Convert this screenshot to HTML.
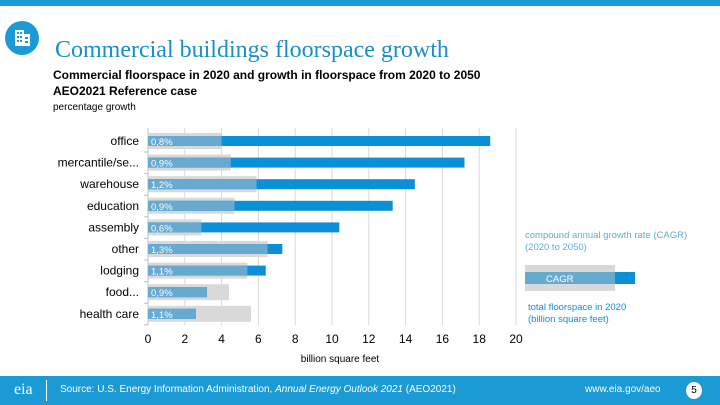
<!DOCTYPE html>
<html><head><meta charset="utf-8"><style>
body{margin:0;width:720px;height:405px;overflow:hidden;background:#fff;font-family:"Liberation Sans",sans-serif;position:relative}
.abs{position:absolute}
</style></head><body>
<div class="abs" style="left:0;top:0;width:720px;height:6px;background:#1b9ad6"></div>
<svg class="abs" style="left:4px;top:20px" width="36" height="36"><circle cx="18" cy="18" r="17" fill="#1b9ad6"/><rect x="11" y="10" width="9" height="16" fill="#fff"/><rect x="19" y="14" width="7" height="12" fill="#fff"/><g fill="#1b9ad6"><rect x="13" y="12" width="2" height="2"/><rect x="16" y="12" width="2" height="2"/><rect x="13" y="16" width="2" height="2"/><rect x="16" y="16" width="2" height="2"/><rect x="13" y="20" width="2" height="2"/><rect x="16" y="20" width="2" height="2"/><rect x="21" y="17" width="3" height="2"/><rect x="21" y="21" width="3" height="2"/></g></svg>
<div class="abs" style="left:55px;top:37px;font-family:'Liberation Serif',serif;font-size:24px;color:#1a8fc7">Commercial buildings floorspace growth</div>
<div class="abs" style="left:53px;top:67px;font-size:12px;font-weight:bold;line-height:16px;letter-spacing:0">Commercial floorspace in 2020 and growth in floorspace from 2020 to 2050<br>AEO2021 Reference case</div>
<div class="abs" style="left:53px;top:102px;font-size:10px">percentage growth</div>
<svg class="abs" id="chart" style="left:0;top:0" width="720" height="376"></svg>
<div class="abs" style="left:0;top:376px;width:720px;height:29px;background:#1b9ad6;color:#fff;font-size:10px">
<div class="abs" style="left:14px;top:5px;font-size:16px;font-family:'Liberation Serif',serif">eia</div>
<div class="abs" style="left:46px;top:4px;width:1px;height:21px;background:#fff"></div>
<div class="abs" style="left:60px;top:8px">Source: U.S. Energy Information Administration, <i>Annual Energy Outlook 2021</i> (AEO2021)</div>
<div class="abs" style="left:585px;top:8px">www.eia.gov/aeo</div>
<div class="abs" style="left:686px;top:6px;width:16px;height:17px;border-radius:50%;background:#fff;color:#000;text-align:center;line-height:17px">5</div>
</div>
<script>
const categories=["office","mercantile/se...","warehouse","education","assembly","other","lodging","food...","health care"];
const floor2020=[4.0,4.5,5.9,4.7,2.9,6.5,5.4,4.4,5.6];
const floor2050=[18.6,17.2,14.5,13.3,10.4,7.3,6.4,3.2,2.6];
const cagr=["0,8%","0,9%","1,2%","0,9%","0,6%","1,3%","1,1%","0,9%","1,1%"];
const ticks=[0,2,4,6,8,10,12,14,16,18,20];
const svg=document.getElementById('chart');const NS='http://www.w3.org/2000/svg';
const x=v=>148+v*18.4;const y=i=>141+i*21.6;
function mk(t,a,p){const e=document.createElementNS(NS,t);for(const k in a)e.setAttribute(k,a[k]);(p||svg).appendChild(e);return e;}
ticks.forEach(t=>{
 const g=mk('line',{x1:x(t),x2:x(t),y1:128,y2:325,stroke:'#d9d9d9','stroke-width':1});
 
 
 const l=mk('text',{x:x(t),y:343,'text-anchor':'middle','font-size':12,fill:'#000'});l.textContent=t;
 
 
});
mk('line',{x1:148,x2:148,y1:128,y2:325,stroke:'#bfbfbf'});
categories.forEach((c,i)=>{
 const cy=y(i);
 const g=mk('rect',{x:x(0),y:cy-8,width:x(floor2020[i])-x(0),height:16,fill:'#d9d9d9'});
 
 
 const b=mk('rect',{x:x(0),y:cy-5,width:x(floor2050[i])-x(0),height:10,fill:'#0b8fd6'});
 
 
 const o=mk('rect',{x:x(0),y:cy-5,width:x(Math.min(floor2020[i],floor2050[i]))-x(0),height:10,fill:'#67a9cf'});
 
 
 const p=mk('text',{x:151,y:cy+4,'font-size':9.5,fill:'#fff'});p.textContent=cagr[i];
 
 
 const l=mk('text',{x:139,y:cy+4,'text-anchor':'end','font-size':12,fill:'#000'});l.textContent=c;
 
 
 mk('line',{x1:144,x2:148,y1:cy+11,y2:cy+11,stroke:'#bfbfbf'});
});
const xt=mk('text',{x:340,y:362,'text-anchor':'middle','font-size':10});xt.textContent='billion square feet';


const lg=mk('g',{});


mk('rect',{x:525,y:265,width:90,height:26,fill:'#d9d9d9'},lg);
mk('rect',{x:525,y:272,width:110,height:12,fill:'#0b8fd6'},lg);
mk('rect',{x:525,y:272,width:90,height:12,fill:'#67a9cf'},lg);
const t1=mk('text',{x:546,y:282,'font-size':9.5,fill:'#fff'},lg);t1.textContent='CAGR';
const t2=mk('text',{x:525,y:238,'font-size':9.5,fill:'#67a9cf'},lg);t2.textContent='compound annual growth rate (CAGR)';
const t3=mk('text',{x:525,y:250,'font-size':9.5,fill:'#67a9cf'},lg);t3.textContent='(2020 to 2050)';
const t4=mk('text',{x:528,y:310,'font-size':9.5,fill:'#0b8fd6'},lg);t4.textContent='total floorspace in 2020';
const t5=mk('text',{x:528,y:322,'font-size':9.5,fill:'#0b8fd6'},lg);t5.textContent='(billion square feet)';
</script>
</body></html>
